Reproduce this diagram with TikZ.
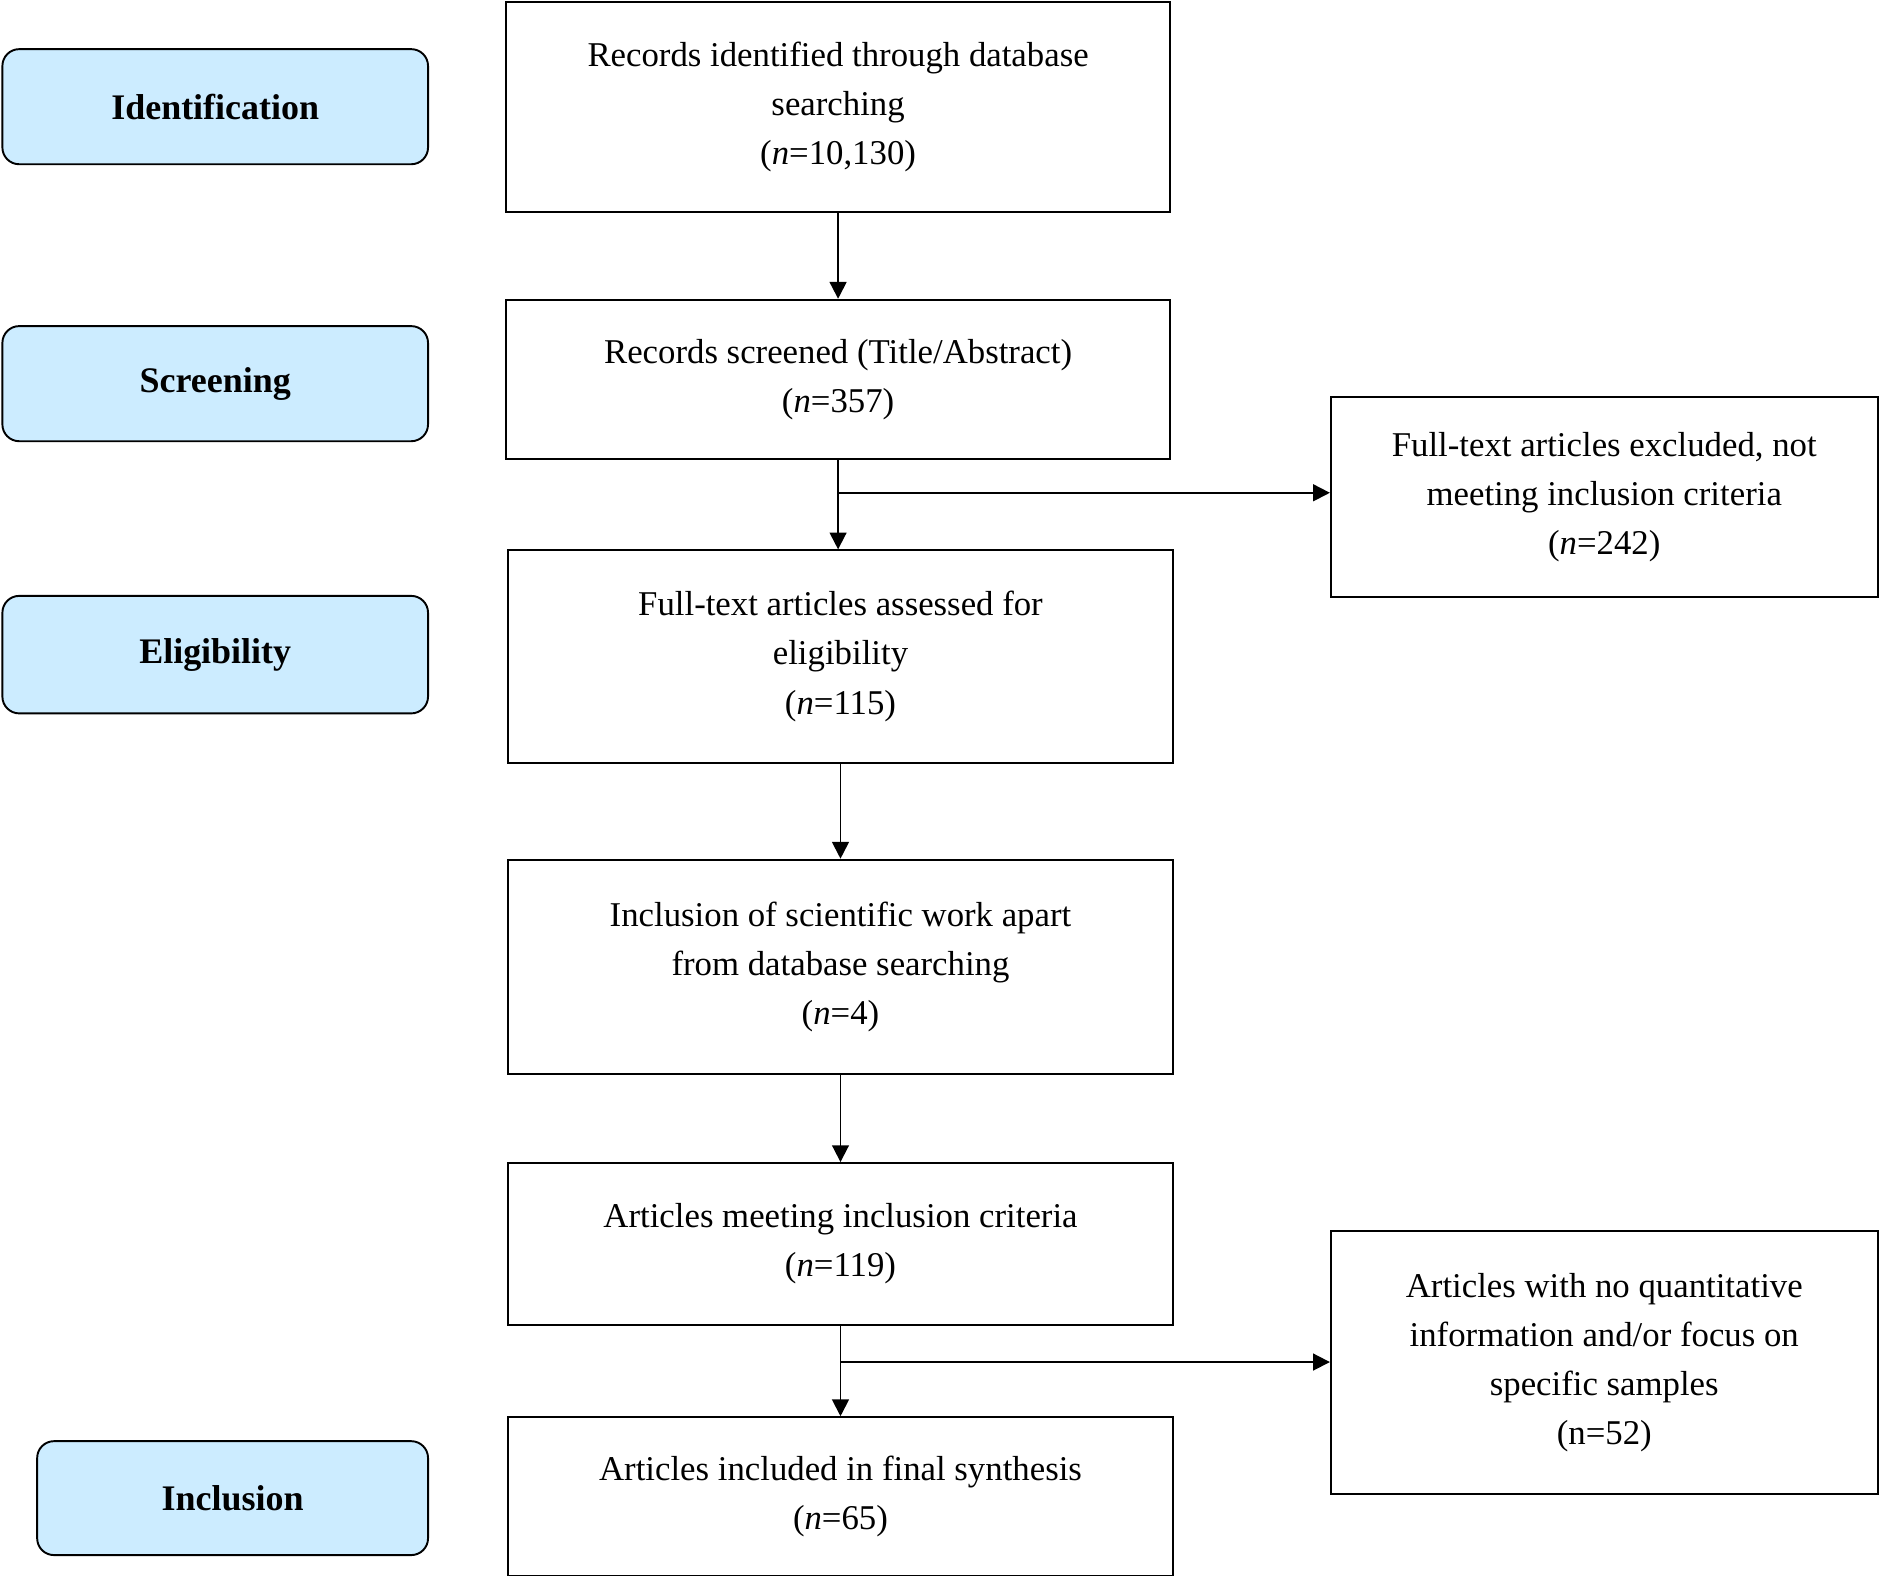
\documentclass[tikz,border=0pt]{standalone}
\usepackage{fontspec}
\setmainfont{Liberation Serif}
\usetikzlibrary{arrows.meta}
\definecolor{stagebg}{RGB}{204,236,255}
\tikzset{
  box/.style={draw, line width=0.8pt, align=center, inner sep=0pt, font=\fontsize{14.5}{20.5}\selectfont},
  stage/.style={draw, line width=0.8pt, rounded corners=7pt, fill=stagebg, inner sep=0pt, font=\fontsize{15}{18}\selectfont\bfseries},
  flow/.style={-{Triangle[length=7pt,width=7pt]}, line width=0.8pt}
}
\begin{document}
\begin{tikzpicture}[x=0.5pt,y=-0.5pt]
    \useasboundingbox (0,0) rectangle (1568,1320);

    % Stage labels
    \node [stage, minimum width=177.5pt, minimum height=48pt] (ident) at (179.5,89) {Identification};
    \node [stage, minimum width=177.5pt, minimum height=48pt] (screen) at (179.5,320) {Screening};
    \node [stage, minimum width=177.5pt, minimum height=49pt] (elig) at (179.5,546) {Eligibility};
    \node [stage, minimum width=163pt, minimum height=47.5pt] (incl) at (194,1249.5) {Inclusion};

    % Main column
    \node [box, minimum width=277pt, minimum height=87.5pt] (records) at (699,89.5) {Records identified through database\\searching\\(\textit{n}=10,130)};
    \node [box, minimum width=277pt, minimum height=66.5pt] (screened) at (699,316.5) {Records screened (Title/Abstract)\\(\textit{n}=357)};
    \node [box, minimum width=277pt, minimum height=88.5pt] (fulltext) at (701,547.5) {Full-text articles assessed for\\eligibility\\(\textit{n}=115)};
    \node [box, minimum width=277pt, minimum height=89.5pt] (apart) at (701,806.5) {Inclusion of scientific work apart\\from database searching\\(\textit{n}=4)};
    \node [box, minimum width=277pt, minimum height=67.5pt] (meeting) at (701,1037.5) {Articles meeting inclusion criteria\\(\textit{n}=119)};
    \node [box, minimum width=277pt, minimum height=66pt] (final) at (701,1248) {Articles included in final synthesis\\(\textit{n}=65)};

    % Side column
    \node [box, minimum width=228pt, minimum height=83.5pt] (excluded) at (1338,414.5) {Full-text articles excluded, not\\meeting inclusion criteria\\(\textit{n}=242)};
    \node [box, minimum width=228pt, minimum height=109.5pt] (noquant) at (1338,1136.5) {Articles with no quantitative\\information and/or focus on\\specific samples\\(n=52)};

    % Connectors
    \draw [flow] (records) -- (screened);
    \draw [flow] (screened.south) -- (fulltext.north -| screened.south);
    \coordinate (split1) at (700,411);
    \draw [flow] (split1) -- (split1 -| excluded.west);
    \draw [flow] (fulltext) -- (apart);
    \draw [flow] (apart) -- (meeting);
    \draw [flow] (meeting) -- (final);
    \coordinate (split2) at (701,1136);
    \draw [flow] (split2) -- (split2 -| noquant.west);
\end{tikzpicture}
\end{document}
